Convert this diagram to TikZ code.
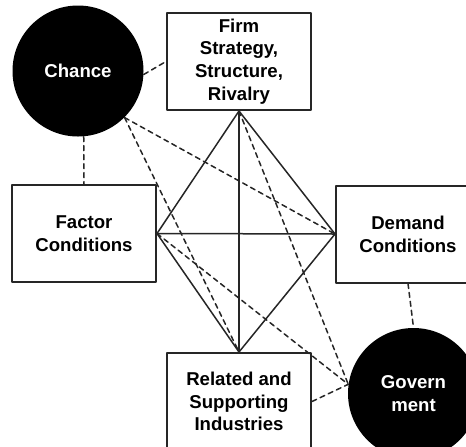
\documentclass[tikz,border=0pt]{standalone}
\usepackage{fontspec}
\setmainfont{Liberation Sans}
\begin{document}
\begin{tikzpicture}[x=0.5pt, y=-0.5pt, font=\fontsize{9.3}{11.4}\selectfont\bfseries, line join=round, line cap=round,
	box/.style={draw=black!85, line width=1pt, fill=white, minimum width=72pt, minimum height=48.5pt, inner sep=0pt, align=center},
	blob/.style={circle, fill=black, text=white, minimum size=65.5pt, inner sep=0pt, align=center},
	tie/.style={draw=black!85, line width=0.75pt},
	link/.style={draw=black!85, line width=0.75pt, dash pattern=on 2.5pt off 2pt}]
	\clip (0,0) rectangle (466,446);
	\path
	(239,61.5) node[box] (firm) {Firm\\Strategy,\\Structure,\\Rivalry}
	(84,233.5) node[box] (factor) {Factor\\Conditions}
	(408,234) node[box] (demand) {Demand\\Conditions}
	(239,401.5) node[box] (related) {Related and\\Supporting\\Industries}
	(78,71) node[blob] (chance) {\raisebox{-2pt}{Chance}}
	(413.5,393.5) node[blob] (gov) {Govern\\ment}
	;
	% the diamond
	\draw[tie] (firm.south)--(factor.east)--(related.north)--(demand.west)--cycle;
	\draw[tie] (firm.south)--(related.north);
	\draw[tie] (factor.east)--(demand.west);
	% outside influences
	\draw[link] (chance.-3)--(firm.west);
	\draw[link] (chance.-85)--(factor.north);
	\draw[link] (chance.-45)--(demand.west);
	\draw[link] (chance.-45)--(related.north);
	\draw[link] (firm.south)--(gov.172);
	\draw[link] (factor.east)--(gov.172);
	\draw[link] (related.east)--(gov.172);
	\draw[link] (demand.south)--(gov.north);
\end{tikzpicture}
\end{document}
